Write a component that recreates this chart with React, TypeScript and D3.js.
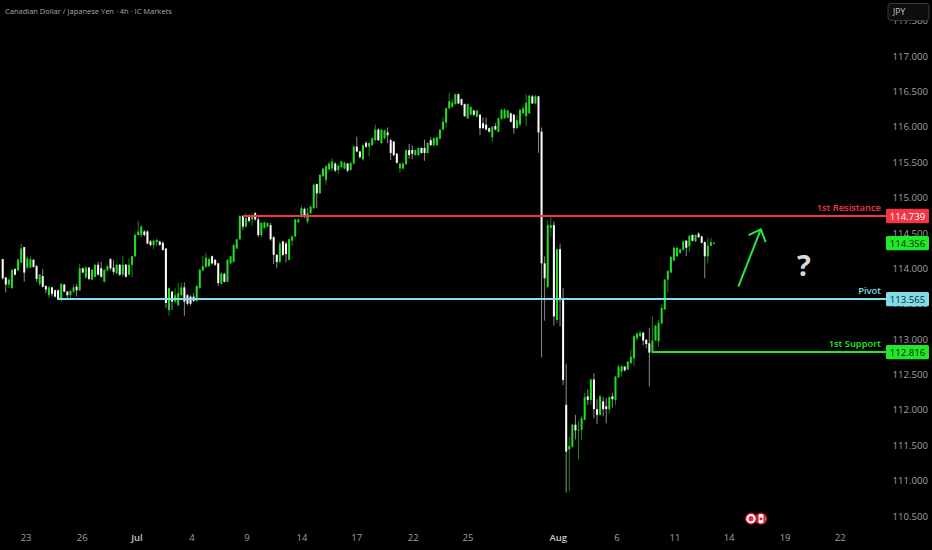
import React from "react";
import * as d3 from "d3";

type Row = [number, number, number, number]; // open, close, high, low

const earlyCandles: Row[] = [
[114.13,113.86,114.13,113.84],[113.87,113.77,113.88,113.66],[113.77,113.84,113.86,113.72],[113.72,113.98,113.99,113.71],[113.99,113.91,114.0,113.9],
[113.97,114.12,114.14,113.96],[114.08,114.28,114.35,114.07],[114.3,113.94,114.3,113.81],[114.01,114.14,114.17,113.99],[114.01,114.13,114.17,114.0],
[114.12,114.02,114.13,114.01],[114.03,113.85,114.05,113.81],[113.78,113.91,113.92,113.75],[113.89,113.74,113.99,113.73],[113.75,113.7,113.76,113.65],
[113.62,113.73,113.75,113.58],[113.73,113.64,113.74,113.6],[113.69,113.6,113.7,113.59],[113.69,113.56,113.7,113.55],[113.56,113.78,113.79,113.52],
[113.77,113.67,113.78,113.66],[113.67,113.62,113.68,113.58],[113.62,113.68,113.69,113.58],[113.67,113.73,113.77,113.65],[113.74,113.69,113.78,113.6],
[113.69,114.0,114.06,113.68],[114.0,113.94,114.01,113.93],[113.87,114.01,114.03,113.85],[114.01,113.85,114.02,113.83],[113.84,113.98,113.99,113.83],
[113.88,114.05,114.06,113.87],[114.05,113.91,114.09,113.9],[114.0,113.88,114.09,113.87],[113.81,113.98,113.99,113.8],[113.97,114.03,114.05,113.96],
[114.13,114.0,114.14,113.97],[114.01,113.95,114.12,113.91],[113.93,114.05,114.06,113.92],[114.05,113.91,114.06,113.89],[113.91,114.05,114.17,113.88],
[114.05,113.88,114.06,113.87],[113.91,114.05,114.14,113.9],[114.05,114.17,114.18,113.87],[114.17,114.47,114.5,114.16],[114.47,114.52,114.67,114.46],
[114.47,114.59,114.61,114.44],[114.52,114.47,114.54,114.45],[114.52,114.35,114.54,114.34],[114.38,114.33,114.4,114.31],[114.33,114.39,114.41,114.27],
[114.37,114.4,114.42,114.31],[114.38,114.33,114.39,114.32],[114.36,114.26,114.38,114.25],[114.28,113.51,114.28,113.44],[113.41,113.72,113.73,113.33],
[113.67,113.53,113.68,113.41],[113.53,113.62,113.72,113.51],[113.48,113.65,113.79,113.46],[113.62,113.73,113.8,113.6],[113.73,113.53,113.8,113.33],
[113.62,113.5,113.64,113.48],[113.6,113.5,113.62,113.47],[113.6,113.54,113.65,113.52],[113.54,113.75,113.76,113.53],[113.72,113.98,113.99,113.71],
[113.97,114.03,114.17,113.96],[114.02,114.15,114.22,114.0],[114.03,114.13,114.15,114.02],[114.17,114.07,114.18,114.05],[114.12,114.05,114.13,114.03],
[114.07,113.79,114.08,113.75],[113.78,113.93,113.94,113.77],[113.92,113.81,113.94,113.8],[113.81,114.12,114.13,113.8],[114.07,114.17,114.18,114.06],
[114.09,114.33,114.34,114.08],[114.28,114.41,114.42,114.27],[114.41,114.74,114.75,114.4],[114.74,114.59,114.75,114.54],[114.59,114.71,114.78,114.57],
[114.74,114.67,114.76,114.65],[114.69,114.74,114.78,114.6],[114.78,114.69,114.8,114.67],[114.69,114.47,114.72,114.44],[114.47,114.64,114.66,114.44],
[114.57,114.65,114.66,114.56],[114.59,114.64,114.65,114.58],[114.61,114.41,114.64,114.39],[114.44,114.19,114.45,114.06],[114.19,114.09,114.2,114.0],
[114.09,114.35,114.37,114.07],[114.38,114.19,114.39,114.17],[114.35,114.2,114.38,114.08],[114.12,114.41,114.42,114.11],[114.39,114.45,114.47,114.32],
[114.45,114.69,114.7,114.44],[114.65,114.69,114.71,114.64],[114.73,114.85,114.89,114.71],[114.84,114.73,114.86,114.71],[114.66,114.78,114.85,114.63],
];

const midCandles: Row[] = [
[114.78,114.87,114.89,114.76],[114.85,115.18,115.2,114.83],[115.19,115.06,115.2,114.85],[115.06,115.32,115.33,115.05],[115.3,115.41,115.42,115.29],
[115.25,115.44,115.46,115.18],[115.4,115.48,115.51,115.38],[115.41,115.51,115.55,115.37],[115.48,115.38,115.5,115.36],[115.39,115.45,115.47,115.34],
[115.43,115.51,115.52,115.42],[115.41,115.49,115.51,115.4],[115.48,115.38,115.49,115.36],[115.39,115.49,115.5,115.38],[115.48,115.72,115.73,115.47],
[115.72,115.65,115.86,115.64],[115.65,115.57,115.66,115.55],[115.54,115.74,115.75,115.52],[115.77,115.72,115.8,115.7],[115.72,115.77,115.78,115.58],
[115.74,115.84,115.85,115.73],[115.81,115.96,116.03,115.8],[115.96,115.81,115.98,115.8],[115.77,115.96,115.97,115.75],[115.84,115.95,115.96,115.82],
[115.92,115.88,115.99,115.77],[115.81,115.63,115.83,115.53],[115.79,115.6,115.8,115.58],[115.62,115.49,115.63,115.48],[115.41,115.48,115.49,115.35],
[115.41,115.48,115.5,115.4],[115.47,115.67,115.68,115.46],[115.67,115.6,115.76,115.55],[115.67,115.62,115.74,115.54],[115.6,115.67,115.68,115.59],
[115.6,115.7,115.71,115.58],[115.7,115.63,115.71,115.62],[115.7,115.63,115.82,115.52],[115.63,115.77,115.78,115.62],[115.81,115.74,115.85,115.73],
[115.74,115.84,115.85,115.72],[115.74,115.85,115.86,115.73],[115.83,115.96,115.97,115.82],[115.96,116.07,116.14,115.95],[116.06,116.26,116.27,115.99],
[116.26,116.36,116.48,116.25],[116.28,116.34,116.39,116.27],[116.32,116.46,116.47,116.31],[116.46,116.33,116.47,116.32],[116.39,116.31,116.4,116.3],
[116.32,116.15,116.33,116.14],[116.12,116.32,116.33,116.11],[116.17,116.28,116.29,116.16],[116.23,116.17,116.24,116.15],[116.14,116.23,116.24,116.13],
[116.17,115.98,116.18,115.88],[116.05,115.98,116.13,115.97],[116.03,115.96,116.13,115.95],[115.98,115.93,115.99,115.92],[115.85,116.0,116.01,115.79],
[116.01,115.96,116.05,115.95],[115.93,116.12,116.13,115.92],[116.11,116.24,116.25,116.1],[116.12,116.24,116.26,116.11],[116.13,116.23,116.24,116.12],
[116.19,116.07,116.2,116.06],[116.17,115.98,116.18,115.9],[115.98,116.09,116.17,115.97],[116.03,116.24,116.25,116.0],[116.19,116.26,116.31,116.18],
[116.15,116.34,116.46,116.01],[116.19,116.44,116.45,116.18],[116.43,116.33,116.45,116.32],[116.33,116.43,116.45,116.32],[116.43,115.92,116.44,115.63],
];

const lateCandles: Row[] = [
[115.93,114.07,115.99,112.74],[114.07,113.86,114.17,113.26],[113.74,114.61,114.68,113.72],[114.57,114.61,114.73,114.44],[114.61,113.32,114.66,113.19],
[113.27,114.27,114.28,113.22],[114.27,113.55,114.35,113.18],[113.55,112.42,113.72,112.35],[112.07,111.41,112.65,110.83],[111.44,111.49,111.62,110.85],
[111.48,111.79,111.8,111.46],[111.79,111.71,111.93,111.58],[111.71,111.72,111.84,111.3],[111.72,111.88,111.91,111.57],[111.86,112.18,112.24,111.85],
[112.19,112.14,112.29,112.07],[112.14,112.43,112.44,112.07],[112.43,112.01,112.52,111.88],[112.01,111.93,112.15,111.8],[111.93,112.19,112.21,111.92],
[112.12,112.01,112.18,111.91],[112.05,112.01,112.17,111.81],[112.01,112.18,112.19,111.95],[112.19,112.15,112.24,112.03],[112.14,112.47,112.48,112.07],
[112.46,112.61,112.64,112.45],[112.54,112.62,112.63,112.47],[112.61,112.56,112.62,112.54],[112.57,112.68,112.69,112.56],[112.66,112.75,112.85,112.65],
[112.73,113.04,113.06,112.62],[113.01,113.08,113.09,112.98],[113.04,113.09,113.12,113.03],[113.09,112.98,113.1,112.91],[112.99,112.93,113.0,112.87],
[112.94,112.81,113.16,112.33],[112.81,112.98,113.32,112.79],[112.98,113.19,113.2,112.97],[112.97,113.23,113.27,112.89],[113.22,113.44,113.49,113.21],
[113.42,113.84,113.85,113.41],[113.84,113.96,113.98,113.66],[113.94,114.16,114.17,113.93],[114.11,114.29,114.31,114.1],[114.17,114.29,114.3,114.16],
[114.22,114.27,114.28,114.2],[114.26,114.38,114.39,114.25],[114.39,114.29,114.4,114.17],[114.31,114.46,114.47,114.23],[114.47,114.39,114.48,114.38],
[114.38,114.47,114.48,114.37],[114.49,114.44,114.51,114.43],[114.45,114.36,114.46,114.35],[114.37,114.17,114.38,113.86],[114.17,114.32,114.43,114.07],
[114.32,114.37,114.43,114.31],[114.35,114.36,114.37,114.34],
];

const candles: Row[] = [...earlyCandles, ...midCandles, ...lateCandles];

const priceTicks = [117.5, 117, 116.5, 116, 115.5, 115, 114.5, 114, 113.5, 113, 112.5, 112, 111.5, 111, 110.5];
const timeLabels = ["23", "26", "Jul", "4", "9", "14", "17", "22", "25", "Aug", "6", "11", "14", "19", "22"];
const timeBars = [7.6, 25.8, 43.6, 61.5, 79.3, 97.2, 115, 133.3, 151.1, 180.4, 199.5, 218.3, 235.9, 254.1, 272];

const levelNames = ["1st Resistance", "Pivot", "1st Support"];
const levelPrices = [114.739, 113.565, 112.816];
const levelStartBars = [78, 17.7, 211];
const levelColors = ["#f23645", "#80deea", "#22e82a"];
const levelTextColors = ["#ffffff", "#10252a", "#06290a"];
const lastPrice = 114.356;

const arrowShaft: [number, number][] = [[238.9, 113.74], [246.2, 114.55]];
const arrowHead: [number, number][] = [[242.2, 114.47], [246.2, 114.55], [247.8, 114.37]];

const W = 932;
const H = 550;
const FONT = "'Open Sans', 'Noto Sans', sans-serif";

const x = d3.scaleLinear().domain([0, candles.length - 1]).range([2.7, 714]);
const y = d3.scaleLinear().domain([110.5, 117]).range([516, 56]);
const pathLine = d3.line<[number, number]>().x((d) => x(d[0])).y((d) => y(d[1]));

const UP = "#22dd22";
const DOWN = "#ffffff";
const UP_WICK = "#0f8a12";
const DOWN_WICK = "#8a8a8a";
const BOX_LEFT = 886;
const BOX_W = 43;
const BOX_H = 14.4;

function PriceBox({ value, fill, text }: { value: number; fill: string; text: string }) {
  const cy = y(value);
  return (
    <g>
      <rect x={BOX_LEFT} y={cy - BOX_H / 2} width={BOX_W} height={BOX_H} rx={1.5} fill={fill} />
      <text x={BOX_LEFT + BOX_W / 2} y={cy + 3.6} textAnchor="middle" fontSize={9.6} fontFamily={FONT} fill={text}>
        {value.toFixed(3)}
      </text>
    </g>
  );
}

export default function App() {
  return (
    <svg
      width={W}
      height={H}
      viewBox={`0 0 ${W} ${H}`}
      style={{ position: "fixed", left: 0, top: 0, background: "#000", display: "block" }}
    >
      <rect width={W} height={H} fill="#000" />

      <text x={5} y={13.5} fontSize={7.5} fontFamily={FONT} fill="#a8a8a8">
        Canadian Dollar / Japanese Yen · 4h · IC Markets
      </text>

      {priceTicks.map((p) => (
        <text key={p} x={928} y={y(p) + 3.6} textAnchor="end" fontSize={9.6} fontFamily={FONT} fill="#a0a0a0">
          {p.toFixed(3)}
        </text>
      ))}

      {timeLabels.map((t, i) => (
        <text
          key={i}
          x={x(timeBars[i])}
          y={541}
          textAnchor="middle"
          fontSize={9.5}
          fontFamily={FONT}
          fill={t === "Jul" || t === "Aug" ? "#c8c8c8" : "#a0a0a0"}
          fontWeight={t === "Jul" || t === "Aug" ? 600 : 400}
        >
          {t}
        </text>
      ))}

      {candles.map(([o, c, h, l], i) => {
        const up = c >= o;
        const top = y(Math.max(o, c));
        const bot = y(Math.min(o, c));
        return (
          <g key={i}>
            <line x1={x(i)} x2={x(i)} y1={y(h)} y2={y(l)} stroke={up ? UP_WICK : DOWN_WICK} strokeWidth={1} />
            <rect x={x(i) - 1} y={top} width={2} height={Math.max(bot - top, 1)} fill={up ? UP : DOWN} />
          </g>
        );
      })}

      {levelNames.map((name, i) => (
        <g key={name}>
          <line
            x1={x(levelStartBars[i])}
            x2={BOX_LEFT}
            y1={y(levelPrices[i])}
            y2={y(levelPrices[i])}
            stroke={levelColors[i]}
            strokeWidth={2}
          />
          <text
            x={881}
            y={y(levelPrices[i]) - 5.5}
            textAnchor="end"
            fontSize={9.4}
            fontWeight={600}
            fontFamily={FONT}
            fill={levelColors[i]}
          >
            {name}
          </text>
          <PriceBox value={levelPrices[i]} fill={levelColors[i]} text={levelTextColors[i]} />
        </g>
      ))}
      <PriceBox value={lastPrice} fill="#22e82a" text="#06290a" />

      <path d={pathLine(arrowShaft) ?? ""} fill="none" stroke="#22e84a" strokeWidth={2} />
      <path d={pathLine(arrowHead) ?? ""} fill="none" stroke="#22e84a" strokeWidth={2} />

      <text x={804} y={276} textAnchor="middle" fontSize={29} fontWeight={700} fontFamily={FONT} fill="#d8d8d8">
        ?
      </text>

      <rect x={888} y={3.5} width={41} height={17} rx={3} fill="#0e0e0e" stroke="#3a3a3a" />
      <text x={893} y={14.5} fontSize={8.5} fontFamily={FONT} fill="#c8c8c8">
        JPY
      </text>

      <g>
        <circle cx={761} cy={518.7} r={5.4} fill="#ffffff" stroke="#b2182b" strokeWidth={1.4} />
        <rect x={756.6} y={514.8} width={2} height={7.8} fill="#d8202f" />
        <rect x={763.4} y={514.8} width={2} height={7.8} fill="#d8202f" />
        <circle cx={761} cy={518.7} r={1.5} fill="#e0202f" />
        <circle cx={751} cy={518.7} r={5.4} fill="#ffffff" stroke="#b2182b" strokeWidth={1.4} />
        <circle cx={751} cy={518.7} r={2.6} fill="#e0303f" />
      </g>
    </svg>
  );
}
